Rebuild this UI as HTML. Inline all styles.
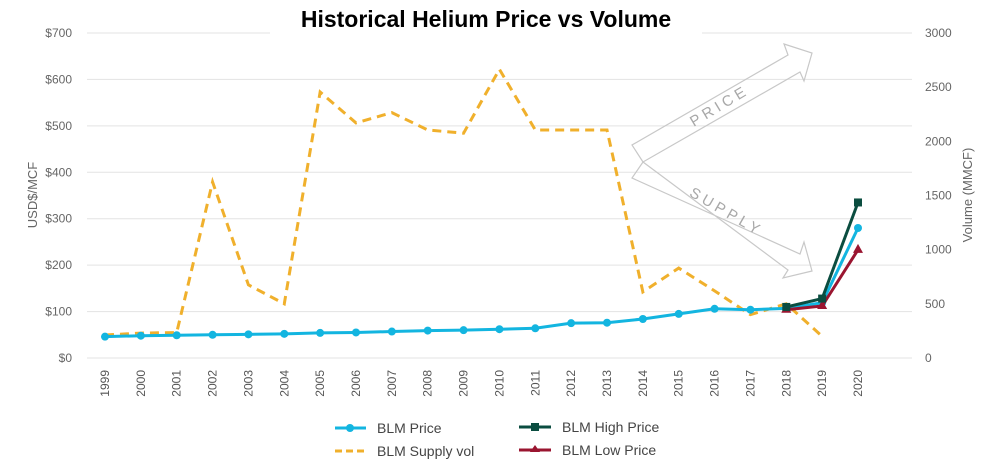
<!DOCTYPE html>
<html><head><meta charset="utf-8"><style>
body{margin:0;background:#fff;}
svg{display:block;font-family:"Liberation Sans",sans-serif;}
</style></head><body>
<svg id="chart" width="1000" height="466">
<g id="grid"></g>
<rect x="270" y="0" width="432" height="40" fill="#fff"/>
<text x="486" y="27" text-anchor="middle" font-size="23" font-weight="bold" fill="#000">Historical Helium Price vs Volume</text>
<g>
<polygon points="643,162 632,145 788,55 784,44 812,53 804,81 800,72" fill="none" stroke="#c8c8c8" stroke-width="1.2"/>
<text x="722" y="110" text-anchor="middle" font-size="15" fill="#a8a8a8" letter-spacing="4" transform="rotate(-31 722 110)">PRICE</text>
</g>
<g>
<polygon points="643,162 632,178 800,254 804,242 812,271 783,278 788,270" fill="none" stroke="#c8c8c8" stroke-width="1.2"/>
<text x="724" y="216" text-anchor="middle" font-size="15" fill="#a8a8a8" letter-spacing="4" transform="rotate(30 724 216)">SUPPLY</text>
</g>
<g id="series"></g>
<g id="axes"></g>
<text transform="translate(37,195) rotate(-90)" text-anchor="middle" font-size="13" fill="#666">USD$/MCF</text>
<text transform="translate(972,195) rotate(-90)" text-anchor="middle" font-size="13" fill="#666">Volume (MMCF)</text>
<g>
<g><line x1="335" y1="428" x2="366" y2="428" stroke="#13b5e0" stroke-width="3"/><circle cx="350" cy="428" r="4" fill="#13b5e0"/><text x="377" y="433" font-size="14" fill="#444">BLM Price</text></g>
<g><line x1="335" y1="451" x2="366" y2="451" stroke="#f0b02c" stroke-width="3" stroke-dasharray="7,4"/><text x="377" y="456" font-size="14" fill="#444">BLM Supply vol</text></g>
<g><line x1="519" y1="427" x2="551" y2="427" stroke="#0b4d40" stroke-width="3"/><rect x="531" y="423" width="8" height="8" fill="#0b4d40"/><text x="562" y="432" font-size="14" fill="#444">BLM High Price</text></g>
<g><line x1="519" y1="450" x2="551" y2="450" stroke="#9a1530" stroke-width="3"/><polygon points="535,445 540,452 530,452" fill="#9a1530"/><text x="562" y="455" font-size="14" fill="#444">BLM Low Price</text></g>
</g>
</svg>
<script>
const years=["1999","2000","2001","2002","2003","2004","2005","2006","2007","2008","2009","2010","2011","2012","2013","2014","2015","2016","2017","2018","2019","2020"];
const priceVals=[46,48,49,50,51,52,54,55,57,59,60,62,64,75,76,84,95,106,104,107,119,280];
const supplyVals=[212,230,235,1625,675,500,2455,2170,2265,2105,2075,2665,2105,2105,2105,610,830,620,400,500,200,null];
const highYears=["2018","2019","2020"];
const highVals=[110,128,335];
const lowVals=[104,112,233];
const leftTicks=[0,100,200,300,400,500,600,700];
const rightTicks=[0,500,1000,1500,2000,2500,3000];

const NS="http://www.w3.org/2000/svg";
const x0=105,dx=(858-105)/21;
function xs(i){return x0+i*dx;}
function yL(v){return 358-v*(325/700);}
function yR(v){return 358-v*(325/3000);}
function mk(tag,at,parent){const e=document.createElementNS(NS,tag);for(const k in at)e.setAttribute(k,at[k]);parent.appendChild(e);return e;}
const grid=document.getElementById('grid'),axes=document.getElementById('axes'),ser=document.getElementById('series');
leftTicks.forEach(t=>{
 const l=mk('line',{x1:87,x2:912,y1:yL(t),y2:yL(t),stroke:'#e3e3e3','stroke-width':1},grid);
 
 
 const tx=mk('text',{x:72,y:yL(t)+4,'text-anchor':'end','font-size':12,fill:'#666'},axes);
 tx.textContent='$'+t;
 
 
});
rightTicks.forEach(t=>{
 const tx=mk('text',{x:925,y:yR(t)+4,'font-size':12,fill:'#666'},axes);
 tx.textContent=t;
 
 
});
years.forEach((y,i)=>{
 const tx=mk('text',{x:0,y:0,'font-size':12,fill:'#555','text-anchor':'end',transform:`translate(${xs(i)+4},370) rotate(-90)`},axes);
 tx.textContent=y;
 
 
});
function pts(vals,fy,offset){return vals.map((v,i)=>v==null?null:[xs(i+offset),fy(v)]).filter(p=>p);}
// supply
const sp=mk('polyline',{points:pts(supplyVals,yR,0).map(p=>p.join(',')).join(' '),fill:'none',stroke:'#f0b02c','stroke-width':3,'stroke-dasharray':'9,6'},ser);


// price
const pp=pts(priceVals,yL,0);
const pl=mk('polyline',{points:pp.map(p=>p.join(',')).join(' '),fill:'none',stroke:'#13b5e0','stroke-width':3},ser);


pp.forEach(p=>{const c=mk('circle',{cx:p[0],cy:p[1],r:4,fill:'#13b5e0'},ser);
 
 });
const off=years.indexOf(highYears[0]);
const lp=pts(lowVals,yL,off);
const ll=mk('polyline',{points:lp.map(p=>p.join(',')).join(' '),fill:'none',stroke:'#9a1530','stroke-width':3},ser);


lp.forEach(p=>{const t=mk('polygon',{points:`${p[0]},${p[1]-6} ${p[0]+5},${p[1]+3} ${p[0]-5},${p[1]+3}`,fill:'#9a1530'},ser);
 
 });
const hp=pts(highVals,yL,off);
const hl=mk('polyline',{points:hp.map(p=>p.join(',')).join(' '),fill:'none',stroke:'#0b4d40','stroke-width':3},ser);


hp.forEach(p=>{const r=mk('rect',{x:p[0]-4,y:p[1]-4,width:8,height:8,fill:'#0b4d40'},ser);
 
 });
</script>
</body></html>
